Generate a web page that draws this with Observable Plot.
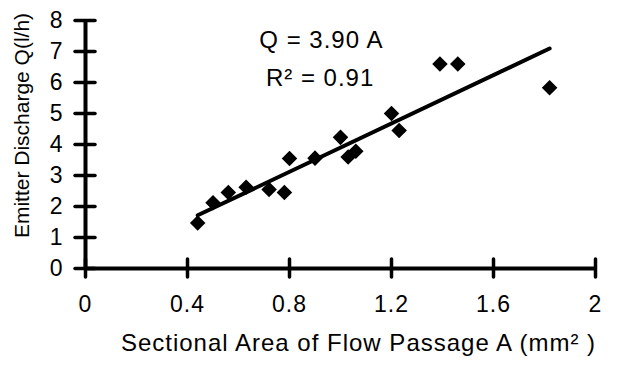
<!DOCTYPE html>
<html>
<head>
<meta charset="utf-8">
<script src="https://cdn.jsdelivr.net/npm/d3@7"></script>
<script src="https://cdn.jsdelivr.net/npm/@observablehq/plot@0.6"></script>
<style>
  html, body { margin: 0; padding: 0; background: #fff; }
  #chart svg { display: block; }
</style>
</head>
<body>
<div id="chart"></div>
<script>
// Data
const area      = [0.44, 0.50, 0.56, 0.63, 0.72, 0.78, 0.80, 0.90, 1.00, 1.03, 1.06, 1.20, 1.23, 1.39, 1.46, 1.82];
const discharge = [1.47, 2.12, 2.45, 2.62, 2.55, 2.45, 3.55, 3.56, 4.23, 3.60, 3.78, 5.00, 4.45, 6.60, 6.60, 5.83];
const slope = 3.90;            // Q = 3.90 A
const fitRange = [0.44, 1.82]; // extent of the fitted line
const xTicks = [0, 0.4, 0.8, 1.2, 1.6, 2];
const yTicks = [0, 1, 2, 3, 4, 5, 6, 7, 8];
const xTitle = "Sectional Area of Flow Passage A (mm\u00B2 )";
const yTitle = "Emitter Discharge Q(l/h)";
const eqLines = ["Q = 3.90 A", "R\u00B2 = 0.91"];

const points = area.map((a, i) => ({a, q: discharge[i]}));
const fit = fitRange.map(a => ({a, q: slope * a}));

const chart = Plot.plot({
  width: 637,
  height: 366,
  marginLeft: 85,
  marginRight: 42,
  marginTop: 20,
  marginBottom: 98,
  x: {domain: [0, 2]},
  y: {domain: [0, 8]},
  style: {fontFamily: "'Liberation Sans', Arial, sans-serif", fontSize: "23px", color: "#000", background: "#fff"},
  marks: [
    Plot.axisX(xTicks, {tickSize: 0, tickPadding: 27, fontSize: 23, label: null, tickFormat: d => String(d)}),
    Plot.axisY(yTicks, {tickSize: 0, tickPadding: 22, fontSize: 23, label: null, tickFormat: d => String(d)}),
    Plot.ruleY([0], {stroke: "#000", strokeWidth: 4}),
    Plot.ruleX([0], {stroke: "#000", strokeWidth: 4}),
    Plot.ruleX(xTicks, {x: d => d, y1: 0, y2: 0, insetTop: 9, insetBottom: 9, stroke: "#000", strokeWidth: 3.5, strokeLinecap: "round"}),
    Plot.ruleY(yTicks, {y: d => d, x1: 0, x2: 0, insetLeft: 10, insetRight: 10, stroke: "#000", strokeWidth: 3.5, strokeLinecap: "round"}),
    Plot.line(fit, {x: "a", y: "q", stroke: "#000", strokeWidth: 4, strokeLinecap: "round"}),
    Plot.dot(points, {x: "a", y: "q", symbol: "diamond2", r: 7, fill: "#000", stroke: null}),
    Plot.text([eqLines[0]], {x: 0.925, y: 7.35, text: d => d, fontSize: 24}),
    Plot.text([eqLines[1]], {x: 0.92, y: 6.15, text: d => d, fontSize: 24}),
    Plot.text([xTitle], {frameAnchor: "bottom", dx: 18, dy: 82, text: d => d, fontSize: 24}),
    Plot.text([yTitle], {frameAnchor: "left", textAnchor: "middle", dx: -63, dy: -19, rotate: -90, text: d => d, fontSize: 21})
  ]
});
// the reference's lettering is slightly wider than Liberation Sans: widen horizontal texts a little
d3.select(chart).selectAll("text").each(function() {
  const t = d3.select(this);
  const txt = t.text();
  if (txt === yTitle) return;
  const isTitle = txt === xTitle || eqLines.includes(txt);
  t.attr("letter-spacing", isTitle ? "1px" : "1px");
});
document.getElementById("chart").appendChild(chart);
</script>
</body>
</html>
